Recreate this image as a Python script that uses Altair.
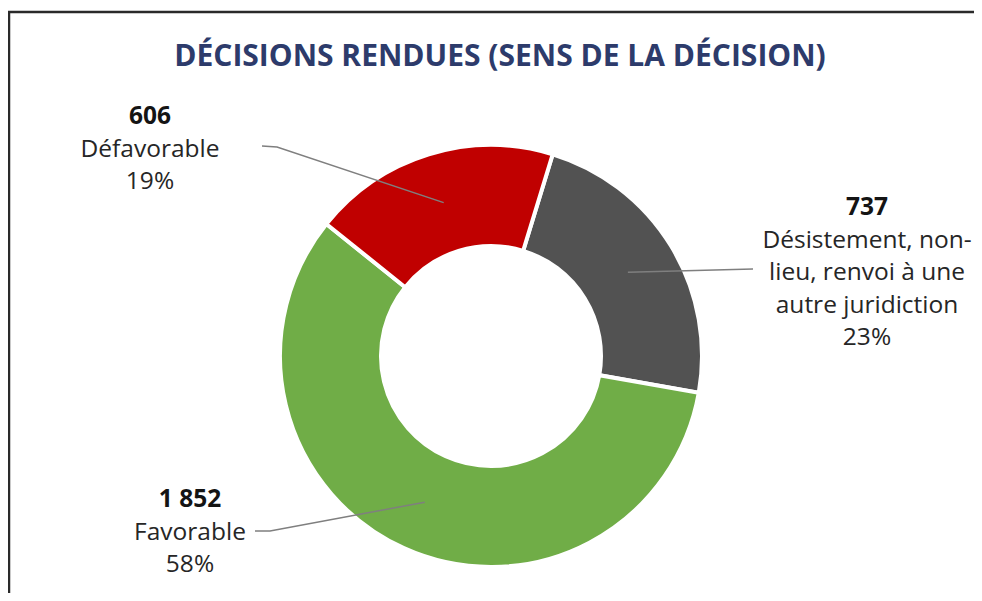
import altair as alt
import pandas as pd
import numpy as np

# ---------------- data ----------------
categories = ["Désistement", "Favorable", "Défavorable"]
values = [737, 1852, 606]
colors = ["#525252", "#70AD47", "#C00000"]
label_text = [
    ["Désistement, non-", "lieu, renvoi à une", "autre juridiction"],
    ["Favorable"],
    ["Défavorable"],
]
title_text = "DÉCISIONS RENDUES (SENS DE LA DÉCISION)"

# ---------------- layout ----------------
W, H = 966, 585
CX, CY = 483, 348
R_OUT, R_IN = 211, 110
START = np.deg2rad(17.0)
LINE_H = 32.5
FONT = "Open Sans"
FS = 24.5
label_anchor = [(859, 200), (182, 492), (142, 109)]          # centre x, first line y
leader_from = [[(745, 261)], [(247, 523), (262, 523)], [(254, 138), (269, 139)]]

total = sum(values)
df = pd.DataFrame({"cat": categories, "value": values, "ord": range(len(values))})

# centroids of slices (for leader lines)
cum = np.cumsum([0] + values[:-1])
r_mid = (R_OUT + R_IN) / 2
line_rows = []
text_rows = []
for i, (c, v) in enumerate(zip(categories, values)):
    mid = START + 2 * np.pi * (cum[i] + v / 2) / total
    ex, ey = CX + r_mid * np.sin(mid), CY - r_mid * np.cos(mid)
    pts = leader_from[i] + [(ex, ey)]
    for k, (px, py) in enumerate(pts):
        line_rows.append({"g": c, "k": k, "x": px, "y": py})
    ax, ay = label_anchor[i]
    num = f"{v:,}".replace(",", " ")
    pct = f"{round(100 * v / total)}%"
    lines = [num] + label_text[i] + [pct]
    for j, t in enumerate(lines):
        text_rows.append({"x": ax, "y": ay + j * LINE_H, "t": t, "bold": j == 0})

lines_df = pd.DataFrame(line_rows)
text_df = pd.DataFrame(text_rows)

donut = alt.Chart(df).mark_arc(
    innerRadius=R_IN, outerRadius=R_OUT, stroke="white", strokeWidth=4
).encode(
    theta=alt.Theta("value:Q", stack=True,
                    scale=alt.Scale(range=[START, START + 2 * np.pi], nice=False)),
    color=alt.Color("cat:N", scale=alt.Scale(domain=categories, range=colors), legend=None),
    order=alt.Order("ord:Q"),
    x=alt.value(CX),
    y=alt.value(CY),
)

leaders = alt.Chart(lines_df).mark_line(color="#7F7F7F", strokeWidth=1.5).encode(
    x=alt.X("x:Q", scale=None),
    y=alt.Y("y:Q", scale=None),
    detail="g:N",
    order="k:Q",
)

txt_bold = alt.Chart(text_df).transform_filter("datum.bold").mark_text(
    font=FONT, fontSize=FS, fontWeight="bold", color="#141414", baseline="middle", align="center"
).encode(x=alt.X("x:Q", scale=None), y=alt.Y("y:Q", scale=None), text="t:N")

txt_norm = alt.Chart(text_df).transform_filter("!datum.bold").mark_text(
    font=FONT, fontSize=FS, color="#262626", baseline="middle", align="center"
).encode(x=alt.X("x:Q", scale=None), y=alt.Y("y:Q", scale=None), text="t:N")

title = alt.Chart(pd.DataFrame({"t": [title_text]})).mark_text(
    font=FONT, fontSize=30, fontWeight="bold", color="#2D3B6B", baseline="middle", align="center"
).encode(x=alt.value(492), y=alt.value(49), text="t:N")

border_v = alt.Chart(pd.DataFrame({"a": [0]})).mark_rule(color="#2A2A2A", strokeWidth=2.5).encode(
    x=alt.value(1), y=alt.value(3), y2=alt.value(H))
border_h = alt.Chart(pd.DataFrame({"a": [0]})).mark_rule(color="#2A2A2A", strokeWidth=2.5).encode(
    x=alt.value(0), x2=alt.value(W), y=alt.value(4))

chart = alt.layer(border_v, border_h, donut, leaders, txt_bold, txt_norm, title).properties(
    width=W, height=H, padding=0, autosize=alt.AutoSizeParams(type="none")
).configure_view(stroke=None)

chart.save("out.html", embed_options={"renderer": "svg", "actions": False})
